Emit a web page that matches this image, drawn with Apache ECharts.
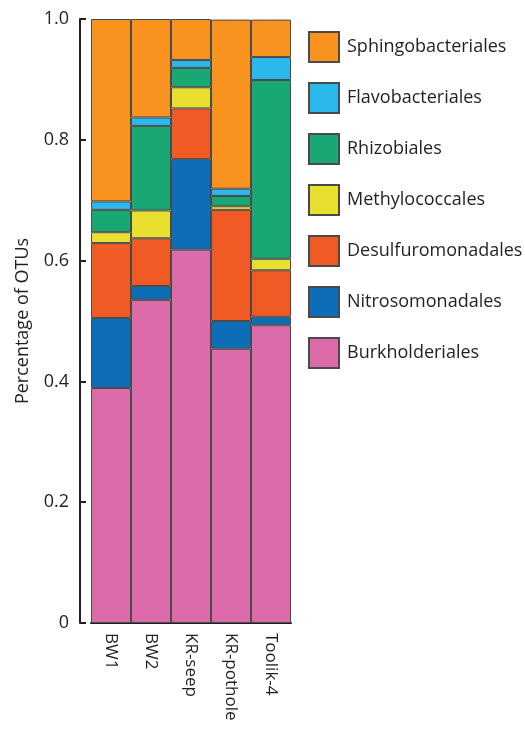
<!DOCTYPE html>
<html>
<head>
<meta charset="utf-8">
<script src="https://cdn.jsdelivr.net/npm/echarts@6/dist/echarts.min.js"></script>
<style>
  html, body { margin: 0; padding: 0; background: #fff; }
  #chart { width: 525px; height: 729px; }
</style>
</head>
<body>
<div id="chart"></div>
<script>
// Samples along the x axis
const samples = ['BW1', 'BW2', 'KR-seep', 'KR-pothole', 'Toolik-4'];

// Relative abundance of each order per sample (stacked bottom to top)
const burkholderiales    = [0.389, 0.535, 0.618, 0.454, 0.493];
const nitrosomonadales   = [0.116, 0.023, 0.150, 0.046, 0.014];
const desulfuromonadales = [0.124, 0.079, 0.084, 0.184, 0.077];
const methylococcales    = [0.018, 0.046, 0.035, 0.006, 0.019];
const rhizobiales        = [0.037, 0.140, 0.032, 0.017, 0.296];
const flavobacteriales   = [0.014, 0.014, 0.013, 0.012, 0.038];
const sphingobacteriales = [0.302, 0.163, 0.068, 0.280, 0.062];

// Y axis tick values
const yTicks = [0, 0.2, 0.4, 0.6, 0.8, 1.0];

const stackOrder = [
  { name: 'Burkholderiales',    data: burkholderiales,    color: '#DC6BAA' },
  { name: 'Nitrosomonadales',   data: nitrosomonadales,   color: '#0E6DB7' },
  { name: 'Desulfuromonadales', data: desulfuromonadales, color: '#EF5A25' },
  { name: 'Methylococcales',    data: methylococcales,    color: '#E8DF31' },
  { name: 'Rhizobiales',        data: rhizobiales,        color: '#19A773' },
  { name: 'Flavobacteriales',   data: flavobacteriales,   color: '#2BB8EA' },
  { name: 'Sphingobacteriales', data: sphingobacteriales, color: '#F7931E' }
];

const FONT = 'Open Sans';
const INK = '#231F20';

const chart = echarts.init(document.getElementById('chart'), null, { renderer: 'canvas' });

chart.setOption({
  animation: false,
  textStyle: { fontFamily: FONT },
  grid: { left: 91, right: 234, top: 19, bottom: 106 },
  legend: {
    orient: 'vertical',
    left: 308,
    top: 31,
    padding: 0,
    itemWidth: 30,
    itemHeight: 30,
    itemGap: 19,
    icon: 'rect',
    data: stackOrder.map(s => s.name).reverse(),
    textStyle: { fontFamily: FONT, fontSize: 18, color: INK, padding: [0, 0, 0, 3] },
    selectedMode: false
  },
  xAxis: {
    type: 'category',
    data: samples,
    axisLine: { show: true, lineStyle: { color: INK, width: 2 } },
    axisTick: { show: false },
    axisLabel: {
      rotate: -90,
      margin: 10,
      fontFamily: FONT,
      fontSize: 17,
      color: INK
    }
  },
  yAxis: {
    type: 'value',
    min: 0,
    max: 1,
    interval: 0.2,
    offset: 11,
    name: 'Percentage of OTUs',
    nameLocation: 'middle',
    nameGap: 48,
    nameTextStyle: { fontFamily: FONT, fontSize: 18, color: INK },
    axisLine: { show: true, lineStyle: { color: INK, width: 2 } },
    axisTick: { show: true, inside: true, length: 6, lineStyle: { color: INK, width: 2 } },
    splitLine: { show: false },
    axisLabel: {
      margin: 11,
      fontFamily: FONT,
      fontSize: 18,
      color: INK,
      formatter: v => {
        const t = yTicks.find(k => Math.abs(k - v) < 1e-9);
        return t === 0 ? '0' : (t !== undefined ? t.toFixed(1) : '');
      }
    }
  },
  series: stackOrder.map(s => ({
    name: s.name,
    type: 'bar',
    stack: 'otus',
    barCategoryGap: '0%',
    data: s.data,
    itemStyle: { color: s.color, borderColor: '#4A4A4A', borderWidth: 1 },
    emphasis: { disabled: true }
  }))
});
</script>
</body>
</html>
